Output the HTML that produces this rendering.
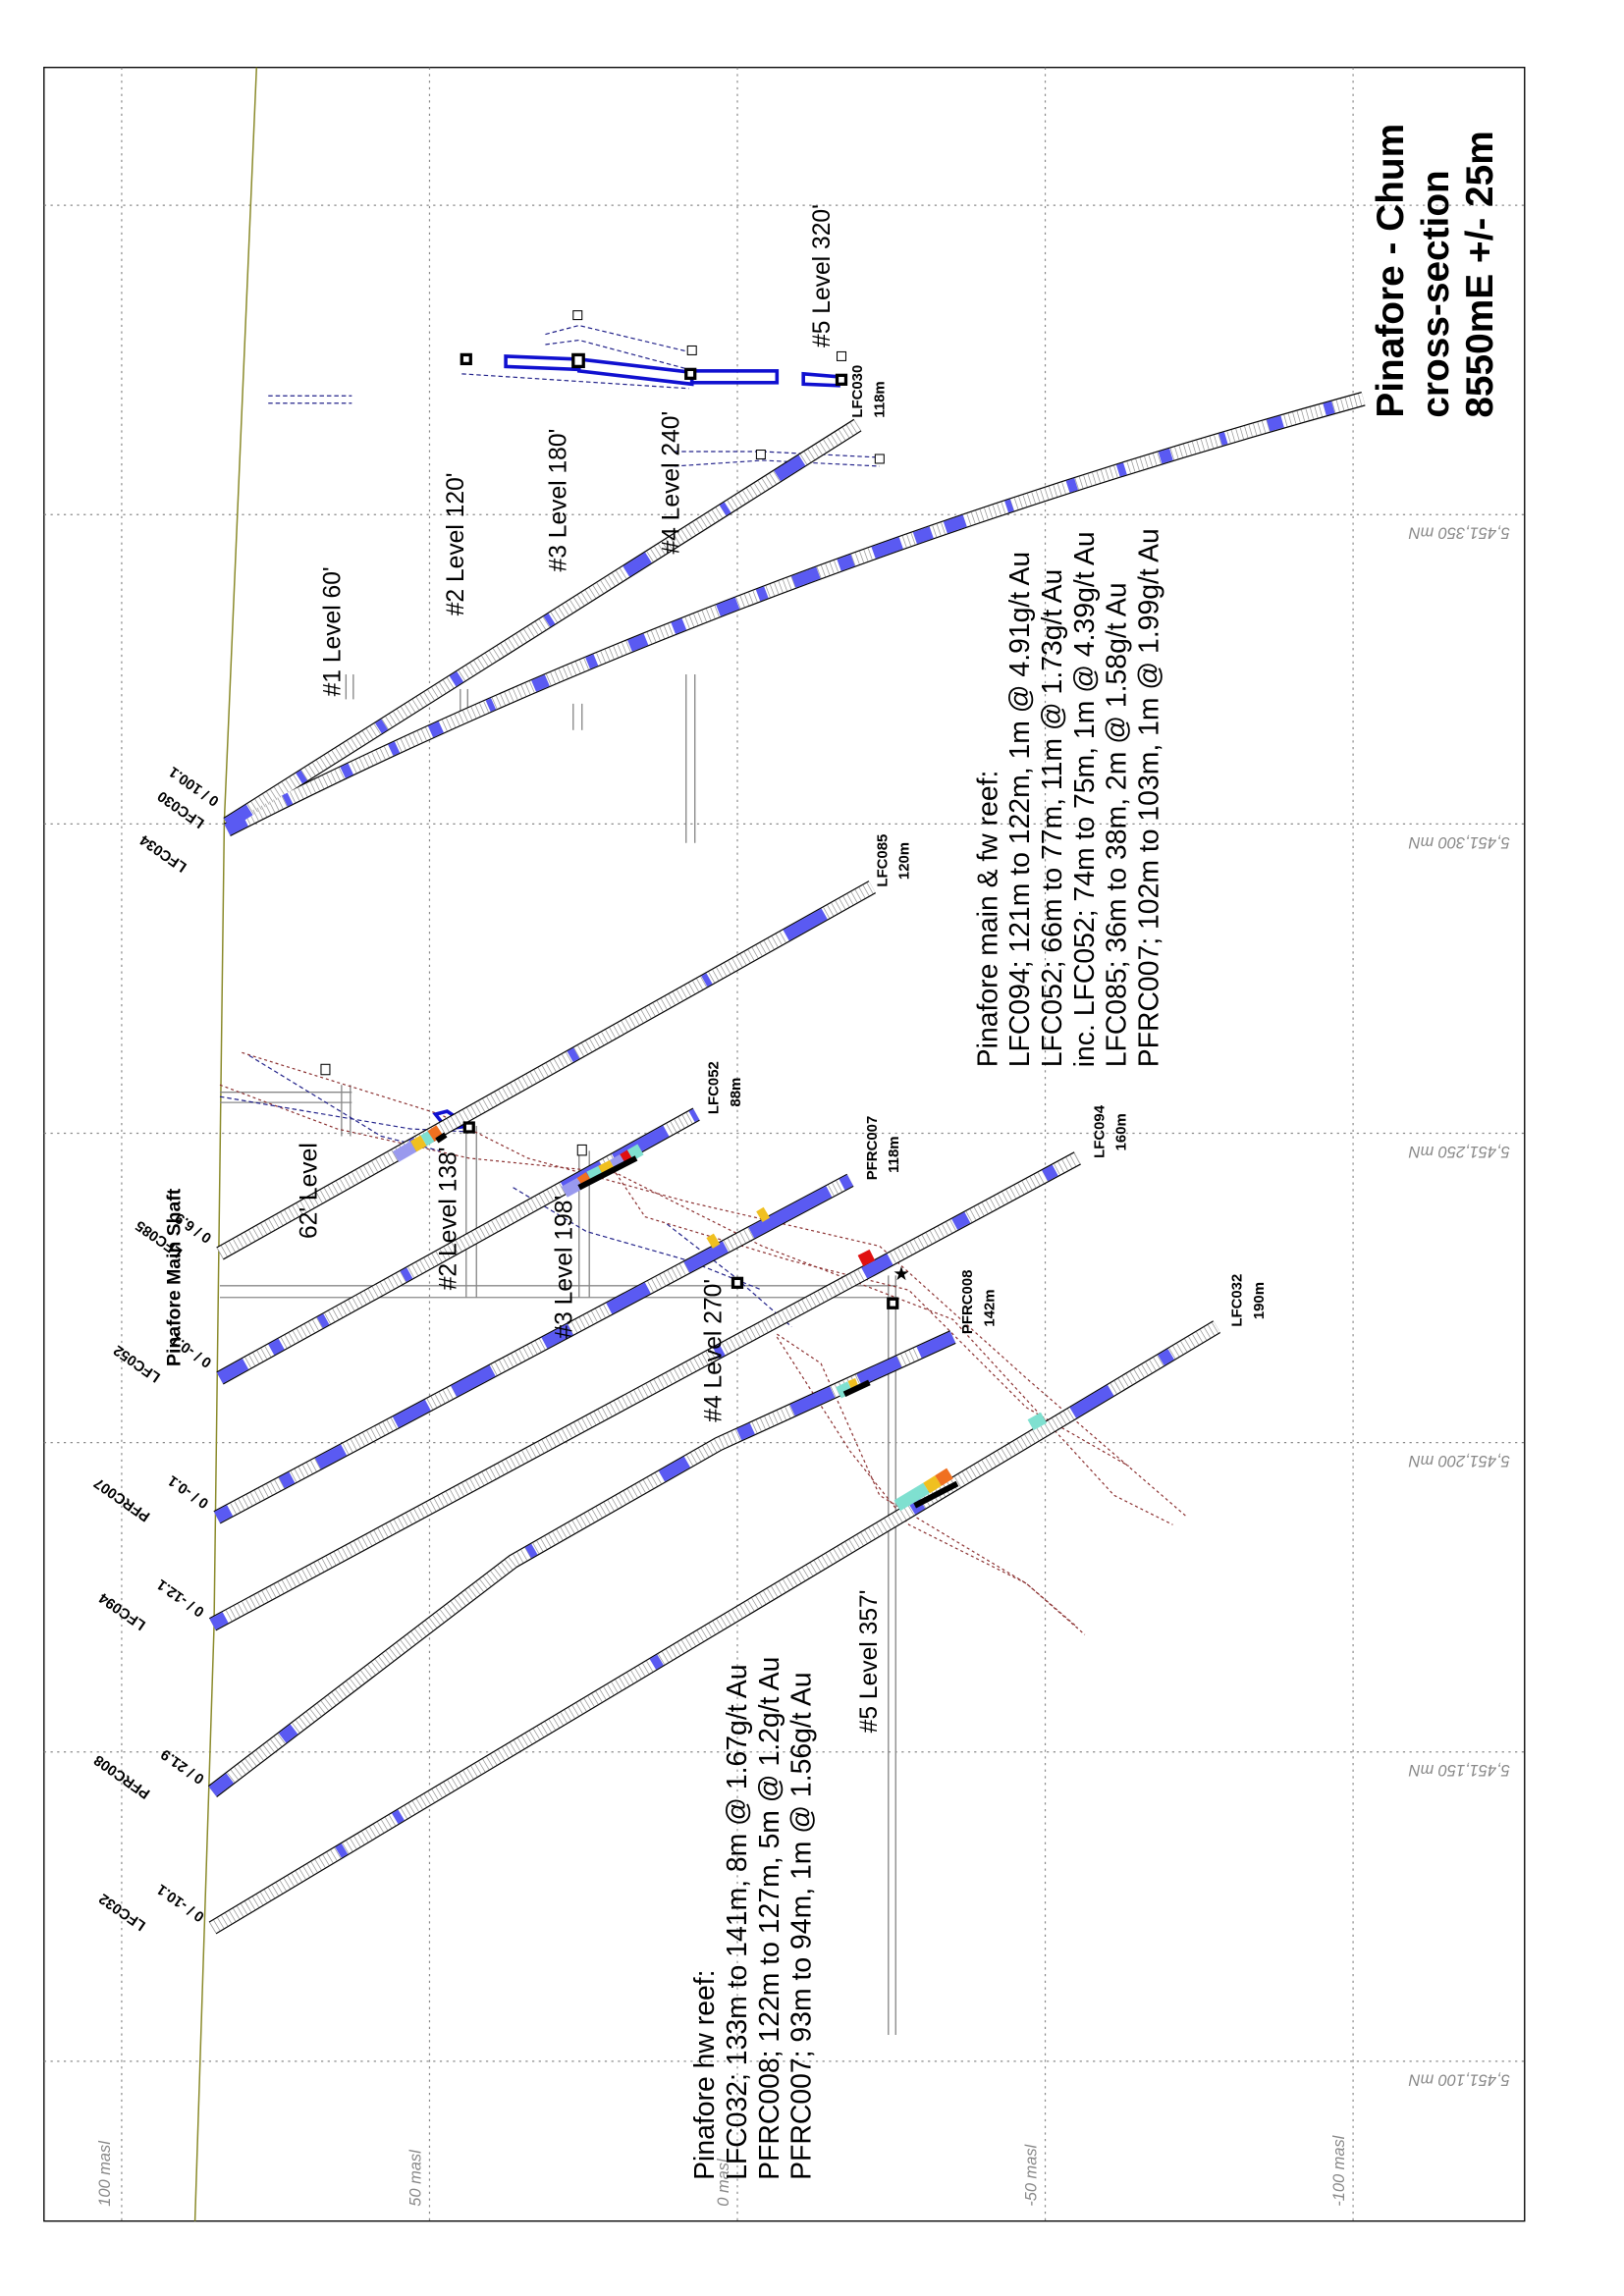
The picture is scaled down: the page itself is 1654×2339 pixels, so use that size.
<!DOCTYPE html>
<html><head><meta charset="utf-8"><style>
html,body{margin:0;padding:0;background:#fff}
svg{display:block}
text{font-family:"Liberation Sans",sans-serif}
.k{fill:none;stroke:#000;stroke-width:10}
.w{fill:none;stroke:#fff;stroke-width:8.4}
.t{fill:none;stroke:#999;stroke-width:8.4;stroke-dasharray:0.5 2.6}
.bl{fill:none;stroke:#5a5af2;stroke-width:8.4}
.g{stroke:#888;stroke-width:0.8;stroke-dasharray:1.5 3;fill:none}
.lv{font-size:16.5px}
.cl{font-size:10px;font-weight:bold}
.mn{font-size:11px;fill:#888;font-style:italic}
.rd{fill:none;stroke:#8b3030;stroke-width:0.8;stroke-dasharray:2 2}
.bd{fill:none;stroke:#22228a;stroke-width:0.8;stroke-dasharray:3 2}
.sq{fill:#fff;stroke:#000;stroke-width:2.2}
.sh{stroke:#888;stroke-width:0.9;fill:none}
</style></head><body>
<svg width="1654" height="2339" viewBox="0 0 1107.8 1566.1" preserveAspectRatio="none" xmlns="http://www.w3.org/2000/svg">
<defs>
<path id="h1" d="M155,562 L585,290"/>
<path id="h2" d="M155,566 Q500,390 930,272"/>
<path id="h3" d="M150,855 L595,605"/>
<path id="h4" d="M150,940 L475,760"/>
<path id="h5" d="M148,1035 L580,805"/>
<path id="h6" d="M145,1108 L735,790"/>
<path id="h7" d="M145,1222 L350,1065 L490,985 L650,912"/>
<path id="h8" d="M145,1315 L830,905"/>
</defs>
<rect x="30" y="46" width="1010" height="1469" fill="#fff" stroke="#000" stroke-width="0.9"/>
<g class="g">
<line x1="83" y1="46" x2="83" y2="1515"/><line x1="293" y1="46" x2="293" y2="1515"/><line x1="503" y1="46" x2="503" y2="1515"/><line x1="713" y1="46" x2="713" y2="1515"/><line x1="923" y1="46" x2="923" y2="1515"/>
<line x1="30" y1="140" x2="1040" y2="140"/><line x1="30" y1="351" x2="1040" y2="351"/><line x1="30" y1="562" x2="1040" y2="562"/><line x1="30" y1="773" x2="1040" y2="773"/><line x1="30" y1="984" x2="1040" y2="984"/><line x1="30" y1="1195" x2="1040" y2="1195"/><line x1="30" y1="1406" x2="1040" y2="1406"/>
</g>
<g class="mn">
<text transform="translate(1030,360) rotate(180)">5,451,350 mN</text>
<text transform="translate(1030,571) rotate(180)">5,451,300 mN</text>
<text transform="translate(1030,782) rotate(180)">5,451,250 mN</text>
<text transform="translate(1030,993) rotate(180)">5,451,200 mN</text>
<text transform="translate(1030,1204) rotate(180)">5,451,150 mN</text>
<text transform="translate(1030,1415) rotate(180)">5,451,100 mN</text>
<text transform="translate(75,1505) rotate(-90)">100 masl</text>
<text transform="translate(287,1505) rotate(-90)">50 masl</text>
<text transform="translate(497,1505) rotate(-90)">0 masl</text>
<text transform="translate(707,1505) rotate(-90)">-50 masl</text>
<text transform="translate(917,1505) rotate(-90)">-100 masl</text>
</g>
<path d="M175,46 Q160,400 153,560 Q148,880 146,1110 L133,1515" fill="none" stroke="#8a8a2a" stroke-width="1"/>
<g class="sh">
<line x1="150" y1="877" x2="612" y2="877"/><line x1="150" y1="885" x2="612" y2="885"/>
<line x1="318" y1="768" x2="318" y2="885"/><line x1="325" y1="768" x2="325" y2="885"/>
<line x1="395" y1="785" x2="395" y2="885"/><line x1="402" y1="785" x2="402" y2="885"/>
<line x1="606" y1="870" x2="606" y2="1388"/><line x1="611" y1="870" x2="611" y2="1388"/>
<line x1="468" y1="460" x2="468" y2="575"/><line x1="474" y1="460" x2="474" y2="575"/>
<line x1="236" y1="460" x2="236" y2="477"/><line x1="241" y1="460" x2="241" y2="477"/>
<line x1="314" y1="470" x2="314" y2="490"/><line x1="319" y1="470" x2="319" y2="490"/>
<line x1="391" y1="480" x2="391" y2="498"/><line x1="397" y1="480" x2="397" y2="498"/>
<line x1="150" y1="745" x2="240" y2="745"/><line x1="150" y1="752" x2="240" y2="752"/>
<line x1="233" y1="740" x2="233" y2="775"/><line x1="239" y1="740" x2="239" y2="775"/>
</g>
<g class="rd">
<path d="M165,718 L300,760 L360,790 L470,820 L600,850 L700,940 L810,1035"/>
<path d="M150,740 L230,770 L320,790 L420,800 L520,850 L650,900 L760,1020 L800,1040"/>
<path d="M530,910 L560,930 L600,1020 L700,1080 L740,1115"/>
<path d="M530,912 L580,990 L620,1040 L700,1080 L735,1110"/>
<path d="M420,800 L440,830 L540,860 L620,880 L700,960 L770,1000"/>
</g>
<g class="bd">
<path d="M150,748 L280,770 L320,772"/>
<path d="M170,720 L260,775 L300,785"/>
<path d="M350,810 L400,840 L470,860 L520,880"/>
<path d="M455,835 L500,870 L540,905"/>
<path d="M372,228 L395,222 L470,240 M372,235 L395,232 L470,252"/>
<path d="M460,308 L520,308 L600,312 M460,318 L520,314 L600,318"/>
<path d="M315,255 L470,265 M183,270 L240,270 M183,275 L240,275"/>
</g>
<g fill="none" stroke="#1010d0" stroke-width="2.4">
<path d="M345,243 L395,245 L395,252 L345,250 Z"/>
<path d="M395,245 L472,254 L472,262 L395,253 Z"/>
<rect x="472" y="253" width="58" height="8"/>
<path d="M548,255 L572,257 L572,263 L548,262 Z"/>
<path d="M297,760 L305,758 L320,768 L305,770 Z"/>
</g>
<g>
<use href="#h1" class="k"/><use href="#h2" class="k"/><use href="#h3" class="k"/><use href="#h4" class="k"/><use href="#h5" class="k"/><use href="#h6" class="k"/><use href="#h7" class="k"/><use href="#h8" class="k"/>
<use href="#h1" class="w"/><use href="#h2" class="w"/><use href="#h3" class="w"/><use href="#h4" class="w"/><use href="#h5" class="w"/><use href="#h6" class="w"/><use href="#h7" class="w"/><use href="#h8" class="w"/>
<use href="#h1" class="t"/><use href="#h2" class="t"/><use href="#h3" class="t"/><use href="#h4" class="t"/><use href="#h5" class="t"/><use href="#h6" class="t"/><use href="#h7" class="t"/><use href="#h8" class="t"/>
<use href="#h1" class="bl" style="stroke-dasharray:18 40 4 60 5 55 6 70 4 60 18 60 4 40 20 60 12"/>
<use href="#h2" class="bl" style="stroke-dasharray:14 30 4 40 6 30 5 25 8 35 4 30 10 30 6 25 12 20 8 25 14 15 6 20 18 15 10 15 20 10 12 10"/>
<use href="#h3" class="bl" style="stroke-dasharray:0 150 4 120 5 100 4 60 30 500"/>
<use href="#h4" class="bl" style="stroke-dasharray:20 20 8 30 5 60 5 120 30 10 40 20 20"/>
<use href="#h5" class="bl" style="stroke-dasharray:10 40 8 20 20 40 25 20 30 40 20 30 30 30 30 20 60"/>
<use href="#h6" class="bl" style="stroke-dasharray:10 380 5 110 20 50 10 60 8 40 8 30"/>
<use href="#h7" class="bl" style="stroke-dasharray:15 45 10 200 5 100 20 40 10 30 30 20 30"/>
<use href="#h8" class="bl" style="stroke-dasharray:0 100 5 40 5 200 6 200 8 120 30 40 8 40 10 30 20"/>
</g>
<g stroke-width="8.4" fill="none">
<path d="M270,789 L282,782" stroke="#9999ee"/><path d="M282,782 L289,778" stroke="#f0c020"/><path d="M289,778 L294,775" stroke="#7fe0d0"/><path d="M294,775 L300,771" stroke="#f07020"/>
<path d="M385,813 L396,807" stroke="#9999ee"/><path d="M396,807 L402,803" stroke="#f07020"/><path d="M402,803 L410,799" stroke="#7fe0d0"/><path d="M410,799 L418,795" stroke="#f0c020"/><path d="M418,795 L425,791" stroke="#9999ee"/><path d="M425,791 L430,788" stroke="#e01010"/><path d="M430,788 L437,784" stroke="#7fe0d0"/>
<path d="M484,848 L489,845" stroke="#f0c020"/><path d="M518,830 L523,827" stroke="#f0c020"/>
<path d="M587,860 L595,856" stroke="#e01010"/>
<path d="M572,950 L580,946" stroke="#7fe0d0"/><path d="M580,946 L585,944" stroke="#f0c020"/>
<path d="M612,1027 L632,1015" stroke="#7fe0d0"/><path d="M632,1015 L640,1010" stroke="#f0c020"/><path d="M640,1010 L648,1005" stroke="#f07020"/>
<path d="M703,972 L712,967" stroke="#7fe0d0"/>
</g>
<g stroke="#000" stroke-width="4">
<line x1="395" y1="810" x2="434" y2="790"/><line x1="576" y1="951" x2="593" y2="943"/><line x1="624" y1="1027" x2="653" y2="1012"/><line x1="298" y1="778" x2="304" y2="774"/>
</g>
<g class="sq">
<rect x="315" y="242" width="6" height="6"/><rect x="391" y="242" width="7" height="8"/><rect x="468" y="252" width="6" height="6"/><rect x="571" y="256" width="6" height="6"/>
<rect x="317" y="766" width="6" height="6"/><rect x="500" y="872" width="6" height="6"/><rect x="606" y="886" width="6" height="6"/>
</g>
<g fill="#fff" stroke="#000" stroke-width="0.7">
<rect x="219" y="726" width="6" height="7"/><rect x="391" y="212" width="6" height="6"/><rect x="469" y="236" width="6" height="6"/><rect x="597" y="310" width="6" height="6"/><rect x="571" y="240" width="6" height="6"/><rect x="394" y="781" width="6" height="7"/><rect x="516" y="307" width="6" height="6"/>
</g>
<text x="609" y="873" font-size="13">★</text>
<g class="cl">
<text transform="translate(588,285) rotate(-90)">LFC030</text><text transform="translate(603,285) rotate(-90)">118m</text>
<text transform="translate(605,605) rotate(-90)">LFC085</text><text transform="translate(620,600) rotate(-90)">120m</text>
<text transform="translate(490,760) rotate(-90)">LFC052</text><text transform="translate(505,755) rotate(-90)">88m</text>
<text transform="translate(598,805) rotate(-90)">PFRC007</text><text transform="translate(613,800) rotate(-90)">118m</text>
<text transform="translate(753,790) rotate(-90)">LFC094</text><text transform="translate(768,785) rotate(-90)">160m</text>
<text transform="translate(663,910) rotate(-90)">PFRC008</text><text transform="translate(678,905) rotate(-90)">142m</text>
<text transform="translate(847,905) rotate(-90)">LFC032</text><text transform="translate(862,900) rotate(-90)">190m</text>
<text transform="translate(150,545) rotate(215)">0 / 100.1</text><text transform="translate(128,590) rotate(215)">LFC034</text><text transform="translate(140,560) rotate(215)">LFC030</text>
<text transform="translate(145,843) rotate(215)">0 / 6.9</text><text transform="translate(125,853) rotate(215)">LFC085</text>
<text transform="translate(145,928) rotate(215)">0 / -0.1</text><text transform="translate(110,938) rotate(215)">LFC052</text>
<text transform="translate(143,1024) rotate(215)">0 / -0.1</text><text transform="translate(103,1033) rotate(215)">PFRC007</text>
<text transform="translate(140,1098) rotate(215)">0 / -12.1</text><text transform="translate(100,1107) rotate(215)">LFC094</text>
<text transform="translate(140,1212) rotate(215)">0 / 21.9</text><text transform="translate(103,1222) rotate(215)">PFRC008</text>
<text transform="translate(140,1306) rotate(215)">0 / -10.1</text><text transform="translate(100,1312) rotate(215)">LFC032</text>
</g>
<text transform="translate(123,932) rotate(-90)" font-size="13" font-weight="bold">Pinafore Main Shaft</text>
<g class="lv">
<text transform="translate(232,475) rotate(-90)">#1 Level 60'</text>
<text transform="translate(316,420) rotate(-90)">#2 Level 120'</text>
<text transform="translate(386,390) rotate(-90)">#3 Level 180'</text>
<text transform="translate(463,378) rotate(-90)">#4 Level 240'</text>
<text transform="translate(566,237) rotate(-90)">#5 Level 320'</text>
<text transform="translate(216,845) rotate(-90)">62' Level</text>
<text transform="translate(311,880) rotate(-90)">#2 Level 138'</text>
<text transform="translate(390,913) rotate(-90)">#3 Level 198'</text>
<text transform="translate(492,970) rotate(-90)">#4 Level 270'</text>
<text transform="translate(598,1182) rotate(-90)">#5 Level 357'</text>
</g>
<g font-size="19">
<text transform="translate(680,728) rotate(-90)">Pinafore main &amp; fw reef:</text>
<text transform="translate(702,728) rotate(-90)">LFC094; 121m to 122m, 1m @ 4.91g/t Au</text>
<text transform="translate(724,728) rotate(-90)">LFC052; 66m to 77m, 11m @ 1.73g/t Au</text>
<text transform="translate(746,728) rotate(-90)">inc. LFC052; 74m to 75m, 1m @ 4.39g/t Au</text>
<text transform="translate(768,728) rotate(-90)">LFC085; 36m to 38m, 2m @ 1.58g/t Au</text>
<text transform="translate(790,728) rotate(-90)">PFRC007; 102m to 103m, 1m @ 1.99g/t Au</text>
<text transform="translate(487,1487) rotate(-90)">Pinafore hw reef:</text>
<text transform="translate(509,1487) rotate(-90)">LFC032; 133m to 141m, 8m @ 1.67g/t Au</text>
<text transform="translate(531,1487) rotate(-90)">PFRC008; 122m to 127m, 5m @ 1.2g/t Au</text>
<text transform="translate(553,1487) rotate(-90)">PFRC007; 93m to 94m, 1m @ 1.56g/t Au</text>
</g>
<g font-size="26" font-weight="bold">
<text transform="translate(957,285) rotate(-90)">Pinafore - Chum</text>
<text transform="translate(988,285) rotate(-90)">cross-section</text>
<text transform="translate(1018,285) rotate(-90)">8550mE +/- 25m</text>
</g>
</svg>
</body></html>
